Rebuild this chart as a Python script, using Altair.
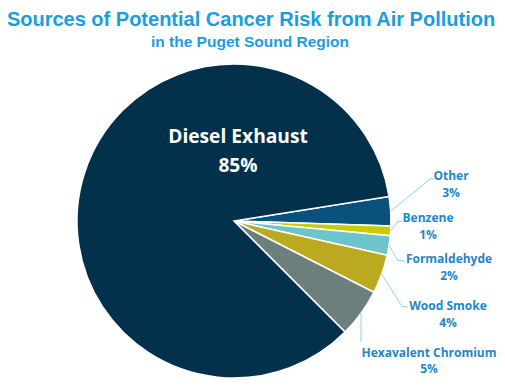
import math
import altair as alt
import pandas as pd

# ---- data ----
sources = ["Other", "Benzene", "Formaldehyde", "Wood Smoke", "Hexavalent Chromium", "Diesel Exhaust"]
shares = [3, 1, 2, 4, 5, 85]
colors = ["#0a527e", "#c8cc05", "#6cc5ca", "#bba91f", "#6d7f7d", "#03304a"]

title_text = "Sources of Potential Cancer Risk from Air Pollution"
subtitle_text = "in the Puget Sound Region"

# ---- layout (page pixels) ----
W = H = 314
PAD_L, PAD_T, PAD_R, PAD_B = 69, 56, 106, 5
ORIG_X, ORIG_Y = 8 + PAD_L, 8 + PAD_T
CX, CY = ORIG_X + W / 2, ORIG_Y + H / 2
R = W / 2
START_DEG = 81

TITLE_COLOR = "#1a9de0"
LABEL_COLOR = "#1e86c8"
LEADER_COLOR = "#8ad4f5"
FONT = "Open Sans"
TITLE_FONT = "Liberation Sans"

# elbow points of leader lines and label anchors (page px)
elbows = {
    "Other": [(430, 179), (434, 179)],
    "Benzene": [(398, 221.5), (402, 221)],
    "Formaldehyde": [(398, 260.5), (405, 261)],
    "Wood Smoke": [(402, 306.5), (408, 307)],
    "Hexavalent Chromium": [(None, 342)],
}
label_anchor = {
    "Other": (451, 180, 197),
    "Benzene": (428, 221.7, 239),
    "Formaldehyde": (449, 263, 280),
    "Wood Smoke": (448, 310, 326.7),
    "Hexavalent Chromium": (429, 356.7, 373.3),
    "Diesel Exhaust": (238, 143.3, 172),
}

pie_df = pd.DataFrame({
    "source": sources,
    "share": shares,
    "order": list(range(len(sources))),
})

start = math.radians(START_DEG)
total = sum(shares)

# leader lines: start at slice mid-angle on the rim
line_rows = []
cum = 0
for s, v in zip(sources, shares):
    mid = start + 2 * math.pi * (cum + v / 2) / total
    cum += v
    if s not in elbows:
        continue
    px, py = CX + R * math.sin(mid), CY - R * math.cos(mid)
    pts = [(px, py)] + [((ex if ex is not None else px), ey) for ex, ey in elbows[s]]
    for i, (x, y) in enumerate(pts):
        line_rows.append({"source": s, "i": i, "x": x, "y": y})
line_df = pd.DataFrame(line_rows)

name_rows, pct_rows = [], []
for s, v in zip(sources, shares):
    ax, ny, py = label_anchor[s]
    name_rows.append({"source": s, "text": s, "x": ax, "y": ny})
    pct_rows.append({"source": s, "text": f"{v}%", "x": ax, "y": py})
lab_df = pd.DataFrame(name_rows + pct_rows)
small_df = lab_df[lab_df.source != "Diesel Exhaust"]
big_df = lab_df[lab_df.source == "Diesel Exhaust"]

title_df = pd.DataFrame({"text": [title_text, subtitle_text], "x": [251, 250], "y": [26.2, 46.7], "kind": ["t", "s"]})

xs = alt.Scale(domain=[ORIG_X, ORIG_X + W], range=[0, W])
ys = alt.Scale(domain=[ORIG_Y, ORIG_Y + H], range=[0, H])
X = lambda: alt.X("x:Q", scale=xs, axis=None)
Y = lambda: alt.Y("y:Q", scale=ys, axis=None)

arc = alt.Chart(pie_df).mark_arc(stroke="white", strokeWidth=1.5).encode(
    theta=alt.Theta("share:Q", stack=True, scale=alt.Scale(range=[start, start + 2 * math.pi])),
    color=alt.Color("source:N", scale=alt.Scale(domain=sources, range=colors), legend=None),
    order=alt.Order("order:Q"),
)

leaders = alt.Chart(line_df).mark_line(color=LEADER_COLOR, strokeWidth=1).encode(
    x=X(), y=Y(), detail="source:N", order="i:Q"
)

small_labels = alt.Chart(small_df).mark_text(
    font=FONT, fontWeight="bold", fontSize=12, color=LABEL_COLOR, align="center", baseline="alphabetic"
).encode(x=X(), y=Y(), text="text:N")

big_labels = alt.Chart(big_df).mark_text(
    font=FONT, fontWeight="bold", fontSize=19.2, color="white", align="center", baseline="alphabetic"
).encode(x=X(), y=Y(), text="text:N")

titles = alt.Chart(title_df[title_df.kind == "t"]).mark_text(
    font=TITLE_FONT, fontWeight="bold", fontSize=20, color=TITLE_COLOR, align="center", baseline="alphabetic"
).encode(x=X(), y=Y(), text="text:N")

subtitles = alt.Chart(title_df[title_df.kind == "s"]).mark_text(
    font=TITLE_FONT, fontWeight="bold", fontSize=15.5, color=TITLE_COLOR, align="center", baseline="alphabetic"
).encode(x=X(), y=Y(), text="text:N")

chart = alt.layer(arc, leaders, small_labels, big_labels, titles, subtitles).properties(
    width=W, height=H,
    padding={"left": PAD_L, "top": PAD_T, "right": PAD_R, "bottom": PAD_B},
    autosize=alt.AutoSizeParams(type="none"),
    background="white",
).configure_view(stroke=None)

chart.save("out.html", embed_options={"renderer": "svg", "actions": False})
